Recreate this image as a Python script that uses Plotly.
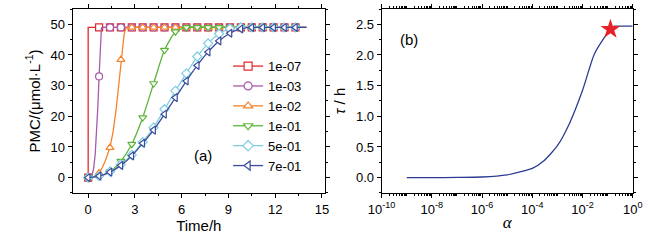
import plotly.graph_objects as go

# ---------------- Panel (a) data ----------------
names = ["1e-07", "1e-03", "1e-02", "1e-01", "5e-01", "7e-01"]
colors = ["#e5262b", "#a85ba9", "#f4832c", "#5cb53a", "#7fcde2", "#3a4c9c"]
symbols = ["square", "circle", "triangle-up", "triangle-down", "diamond", "triangle-left"]

marker_t = [0, 0.7, 1.4, 2.1, 2.8, 3.5, 4.2, 4.9, 5.6, 6.3, 7.0, 7.7, 8.4, 9.1, 9.8,
            10.5, 11.2, 11.9, 12.6, 13.3]

pmc_1e07 = [0, 49, 49, 49, 49, 49, 49, 49, 49, 49, 49, 49, 49, 49, 49, 49, 49, 49, 49, 49]
pmc_1e03 = [0, 33, 49, 49, 49, 49, 49, 49, 49, 49, 49, 49, 49, 49, 49, 49, 49, 49, 49, 49]
pmc_1e02 = [0, 1.5, 9.8, 38.5, 49, 49, 49, 49, 49, 49, 49, 49, 49, 49, 49, 49, 49, 49, 49, 49]
pmc_1e01 = [0, 0.4, 2.0, 5.4, 10.9, 19.6, 30.7, 41.6, 47.6, 49, 49, 49, 49, 49, 49, 49, 49, 49, 49, 49]
pmc_5e01 = [0, 0.5, 2.0, 4.3, 7.4, 11.6, 16.3, 22.3, 28.3, 34.0, 39.5, 43.8, 46.9, 48.6, 49, 49, 49, 49, 49, 49]
pmc_7e01 = [0, 0.5, 1.8, 4.0, 7.1, 11.2, 15.5, 20.7, 26.1, 31.5, 36.6, 41.0, 44.6, 47.1, 48.5, 49, 49, 49, 49, 49]
marker_vals = [pmc_1e07, pmc_1e03, pmc_1e02, pmc_1e01, pmc_5e01, pmc_7e01]

line_t_1e07 = [0, 0, 14]
line_v_1e07 = [0, 49, 49]
line_t_1e03 = [0, 0.15, 0.25, 0.35, 0.45, 0.55, 0.62, 0.7, 0.75, 0.8, 0.85, 0.9, 14]
line_v_1e03 = [0, 0, 0.8, 3, 7.5, 15, 23, 33, 40, 46, 48.8, 49, 49]
line_t_1e02 = [0, 0.3, 0.5, 0.7, 0.9, 1.1, 1.4, 1.6, 1.8, 2.0, 2.1, 2.2, 2.3, 2.4, 2.5, 14]
line_v_1e02 = [0, 0, 0.5, 1.5, 3.2, 5.5, 9.8, 15, 22.5, 32, 38.5, 43, 46.5, 48.5, 49, 49]
line_t_1e01 = marker_t + [14]
line_v_1e01 = pmc_1e01 + [49]
line_t_5e01 = marker_t + [14]
line_v_5e01 = pmc_5e01 + [49]
line_t_7e01 = marker_t + [14]
line_v_7e01 = pmc_7e01 + [49]
line_ts = [line_t_1e07, line_t_1e03, line_t_1e02, line_t_1e01, line_t_5e01, line_t_7e01]
line_vs = [line_v_1e07, line_v_1e03, line_v_1e02, line_v_1e01, line_v_5e01, line_v_7e01]
line_shapes = ["linear", "linear", "linear", "spline", "spline", "spline"]

# ---------------- Panel (b) data ----------------
alpha = [1e-9, 1e-8, 1e-7, 1e-6, 1e-5, 3e-5, 1e-4, 3e-4, 1e-3, 3e-3, 1e-2, 3e-2,
         0.1, 0.13, 0.16, 0.2, 0.3, 1.0]
tau = [0.0, 0.0, 0.003, 0.01, 0.045, 0.09, 0.15, 0.28, 0.52, 0.88, 1.42, 2.02,
       2.36, 2.42, 2.46, 2.47, 2.47, 2.47]
star_alpha = [0.13]
star_tau = [2.42]

fig = go.Figure()

for i in range(6):
    fig.add_trace(go.Scatter(
        x=line_ts[i], y=line_vs[i], mode="lines",
        line=dict(color=colors[i], width=1.3, shape=line_shapes[i], smoothing=0.6),
        showlegend=False, xaxis="x", yaxis="y", hoverinfo="skip"))
    fig.add_trace(go.Scatter(
        x=marker_t, y=marker_vals[i], mode="markers",
        marker=dict(symbol=symbols[i], size=7, color="white",
                    line=dict(color=colors[i], width=1.2)),
        showlegend=False, xaxis="x", yaxis="y"))
    fig.add_trace(go.Scatter(
        x=[None], y=[None], mode="lines+markers", name=names[i], legendgroup=names[i],
        line=dict(color=colors[i], width=1.3),
        marker=dict(symbol=symbols[i], size=8, color="white",
                    line=dict(color=colors[i], width=1.2)),
        xaxis="x", yaxis="y"))

fig.add_trace(go.Scatter(
    x=alpha, y=tau, mode="lines", line=dict(color="#2b3d92", width=1.3, shape="spline", smoothing=0.6),
    showlegend=False, xaxis="x2", yaxis="y2"))
fig.add_trace(go.Scatter(
    x=star_alpha, y=star_tau, mode="markers",
    marker=dict(symbol="star", size=15, color="#e8202a", line=dict(width=0)),
    showlegend=False, xaxis="x2", yaxis="y2"))

tickfont = dict(family="Liberation Sans, Arial, sans-serif", size=13, color="black")
axis_common = dict(showline=True, linecolor="black", linewidth=1, mirror="allticks",
                   ticks="outside", ticklen=4, tickcolor="black", showgrid=False,
                   zeroline=False, tickfont=tickfont, automargin=False)

exps = [-10, -8, -6, -4, -2, 0]
alpha_tickvals = [10.0 ** e for e in exps]
alpha_ticktext = ["10<sup>%d</sup>" % e for e in exps]

fig.update_layout(
    width=666, height=240,
    margin=dict(l=0, r=0, t=0, b=0),
    paper_bgcolor="white", plot_bgcolor="white",
    font=dict(family="Liberation Sans, Arial, sans-serif", color="black"),
    xaxis=dict(domain=[0.109, 0.488], range=[-1, 15.2], tickvals=[0, 3, 6, 9, 12, 15],
               minor=dict(ticks="outside", ticklen=2, dtick=1.5, tickcolor="black"),
               title=dict(text="Time/h", font=dict(size=15), standoff=2),
               anchor="y", **axis_common),
    yaxis=dict(domain=[0.196, 0.9625], range=[-5, 55], tickvals=[0, 10, 20, 30, 40, 50],
               minor=dict(ticks="outside", ticklen=2, dtick=5, tickcolor="black"),
               title=dict(text="PMC/(μmol·L<sup>-1</sup>)", font=dict(size=15), standoff=6),
               anchor="x", **axis_common),
    xaxis2=dict(domain=[0.573, 0.950], type="log", range=[-10, 0],
                tickvals=alpha_tickvals, ticktext=alpha_ticktext,
                minor=dict(ticks="outside", ticklen=2, dtick="D1", tickcolor="black"),
                title=dict(text="<i>α</i>", font=dict(size=17, family="Liberation Serif, serif"), standoff=0),
                anchor="y2", **axis_common),
    yaxis2=dict(domain=[0.196, 0.9625], range=[-0.25, 2.75], tickvals=[0, 0.5, 1.0, 1.5, 2.0, 2.5],
                tickformat=".1f",
                minor=dict(ticks="outside", ticklen=2, dtick=0.25, tickcolor="black"),
                title=dict(text="<i>τ</i> / h", font=dict(size=15), standoff=6),
                anchor="x2", **axis_common),
    legend=dict(x=0.3425, y=0.787, xanchor="left", yanchor="top",
                bgcolor="rgba(0,0,0,0)", borderwidth=0,
                font=dict(size=13, color="black"), itemwidth=30, tracegroupgap=0,
                traceorder="grouped"),
)
anns = [
    dict(text="(a)", x=192 / 666, y=1 - 166 / 240, xref="paper", yref="paper",
         showarrow=False, font=dict(size=15)),
    dict(text="(b)", x=409 / 666, y=1 - 29 / 240, xref="paper", yref="paper",
         showarrow=False, font=dict(size=15)),
]
fig.update_layout(annotations=anns)

fig.write_html("out.html", config={"displayModeBar": False},
               post_script="document.body.style.margin='0';")
